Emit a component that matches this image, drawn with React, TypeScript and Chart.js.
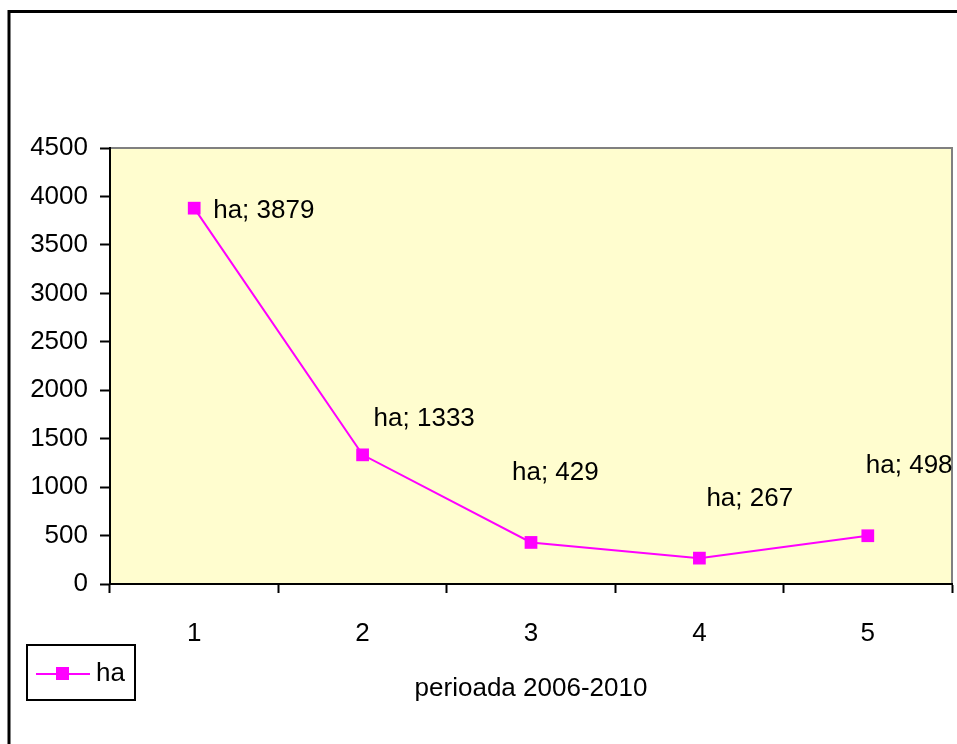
import React, { useEffect, useRef } from "react";
import { Chart, registerables } from "chart.js";

Chart.register(...registerables);

const categories = ["1", "2", "3", "4", "5"];
const seriesName = "ha";
const values = [3879, 1333, 429, 267, 498];
const yTicks = [0, 500, 1000, 1500, 2000, 2500, 3000, 3500, 4000, 4500];
const xAxisTitle = "perioada 2006-2010";

const FONT = "'Liberation Sans', Arial, sans-serif";
const FSIZE = 26;
const MAGENTA = "#FF00FF";
const labelOffsets = [
  [19, 3],
  [11, -36],
  [-19, -70],
  [7, -59],
  [-2, -70],
];

const decorPlugin = {
  id: "decor",
  beforeDraw(chart: any) {
    const { ctx, chartArea: a } = chart;
    ctx.save();
    ctx.fillStyle = "#FFFFFF";
    ctx.fillRect(0, 0, chart.width, chart.height);
    ctx.strokeStyle = "#000";
    ctx.lineWidth = 3;
    ctx.strokeRect(9, 11.5, 1200, 1200);
    ctx.fillStyle = "#FFFDCF";
    ctx.fillRect(a.left, a.top, a.right - a.left, a.bottom - a.top);
    ctx.strokeStyle = "#808080";
    ctx.lineWidth = 2;
    ctx.beginPath();
    ctx.moveTo(a.left, a.top);
    ctx.lineTo(a.right, a.top);
    ctx.lineTo(a.right, a.bottom);
    ctx.stroke();
    ctx.restore();
  },
  afterDatasetsDraw(chart: any) {
    const { ctx } = chart;
    const meta = chart.getDatasetMeta(0);
    ctx.save();
    ctx.font = `${FSIZE}px ${FONT}`;
    ctx.fillStyle = "#000";
    ctx.textAlign = "left";
    ctx.textBaseline = "middle";
    meta.data.forEach((pt: any, i: number) => {
      const [dx, dy] = labelOffsets[i];
      ctx.fillText(`${seriesName}; ${values[i]}`, pt.x + dx, pt.y + dy);
    });
    // legend
    ctx.strokeStyle = "#000";
    ctx.lineWidth = 2;
    ctx.strokeRect(27, 645, 108, 55);
    ctx.strokeStyle = MAGENTA;
    ctx.lineWidth = 2;
    ctx.beginPath();
    ctx.moveTo(36, 674);
    ctx.lineTo(90, 674);
    ctx.stroke();
    ctx.fillStyle = MAGENTA;
    ctx.fillRect(56, 667, 13, 13);
    ctx.fillStyle = "#000";
    ctx.fillText(seriesName, 96, 674);
    ctx.restore();
  },
};

export default function App() {
  const ref = useRef<HTMLCanvasElement>(null);
  useEffect(() => {
    if (!ref.current) return;
    const chart = new Chart(ref.current, {
      type: "line",
      data: {
        labels: categories,
        datasets: [
          {
            label: seriesName,
            data: values,
            borderColor: MAGENTA,
            backgroundColor: MAGENTA,
            borderWidth: 2,
            pointStyle: "rect",
            pointRadius: 9,
            pointBorderWidth: 0,
            tension: 0,
          },
        ],
      },
      options: {
        animation: false,
        responsive: false,
        layout: { padding: { left: 0, top: 148, right: 5, bottom: 0 } },
        plugins: { legend: { display: false }, tooltip: { enabled: false } },
        scales: {
          x: {
            offset: true,
            grid: {
              offset: true,
              drawOnChartArea: false,
              drawTicks: true,
              tickLength: 9,
              tickColor: "#000",
              tickWidth: 2,
            },
            border: { color: "#000", width: 2 },
            ticks: {
              color: "#000",
              font: { family: FONT, size: FSIZE },
              padding: 25,
              maxRotation: 0,
            },
            title: {
              display: true,
              text: xAxisTitle,
              color: "#000",
              font: { family: FONT, size: FSIZE },
              padding: { top: 0, bottom: 40 },
            },
            afterFit(scale: any) {
              scale.height = 160;
              scale.paddingLeft = 0;
              scale.paddingRight = 0;
            },
          },
          y: {
            min: 0,
            max: 4500,
            afterBuildTicks(scale: any) {
              scale.ticks = yTicks.map((v) => ({ value: v }));
            },
            grid: {
              drawOnChartArea: false,
              tickLength: 10,
              tickColor: "#000",
              tickWidth: 2,
            },
            border: { color: "#000", width: 2 },
            ticks: {
              color: "#000",
              font: { family: FONT, size: FSIZE },
              padding: 12,
              callback: (v: any) => String(v),
            },
            afterFit(scale: any) {
              scale.width = 110;
              scale.paddingTop = 0;
              scale.paddingBottom = 0;
            },
          },
        },
      },
      plugins: [decorPlugin],
    });
    const ctrl: any = chart.getDatasetMeta(0).controller;
    if (ctrl) {
      ctrl.getMaxOverflow = () => 0;
      chart.update();
    }
    return () => chart.destroy();
  }, []);
  return (
    <canvas
      ref={ref}
      width={957}
      height={744}
      style={{ position: "fixed", left: 0, top: 0, width: 957, height: 744 }}
    />
  );
}
